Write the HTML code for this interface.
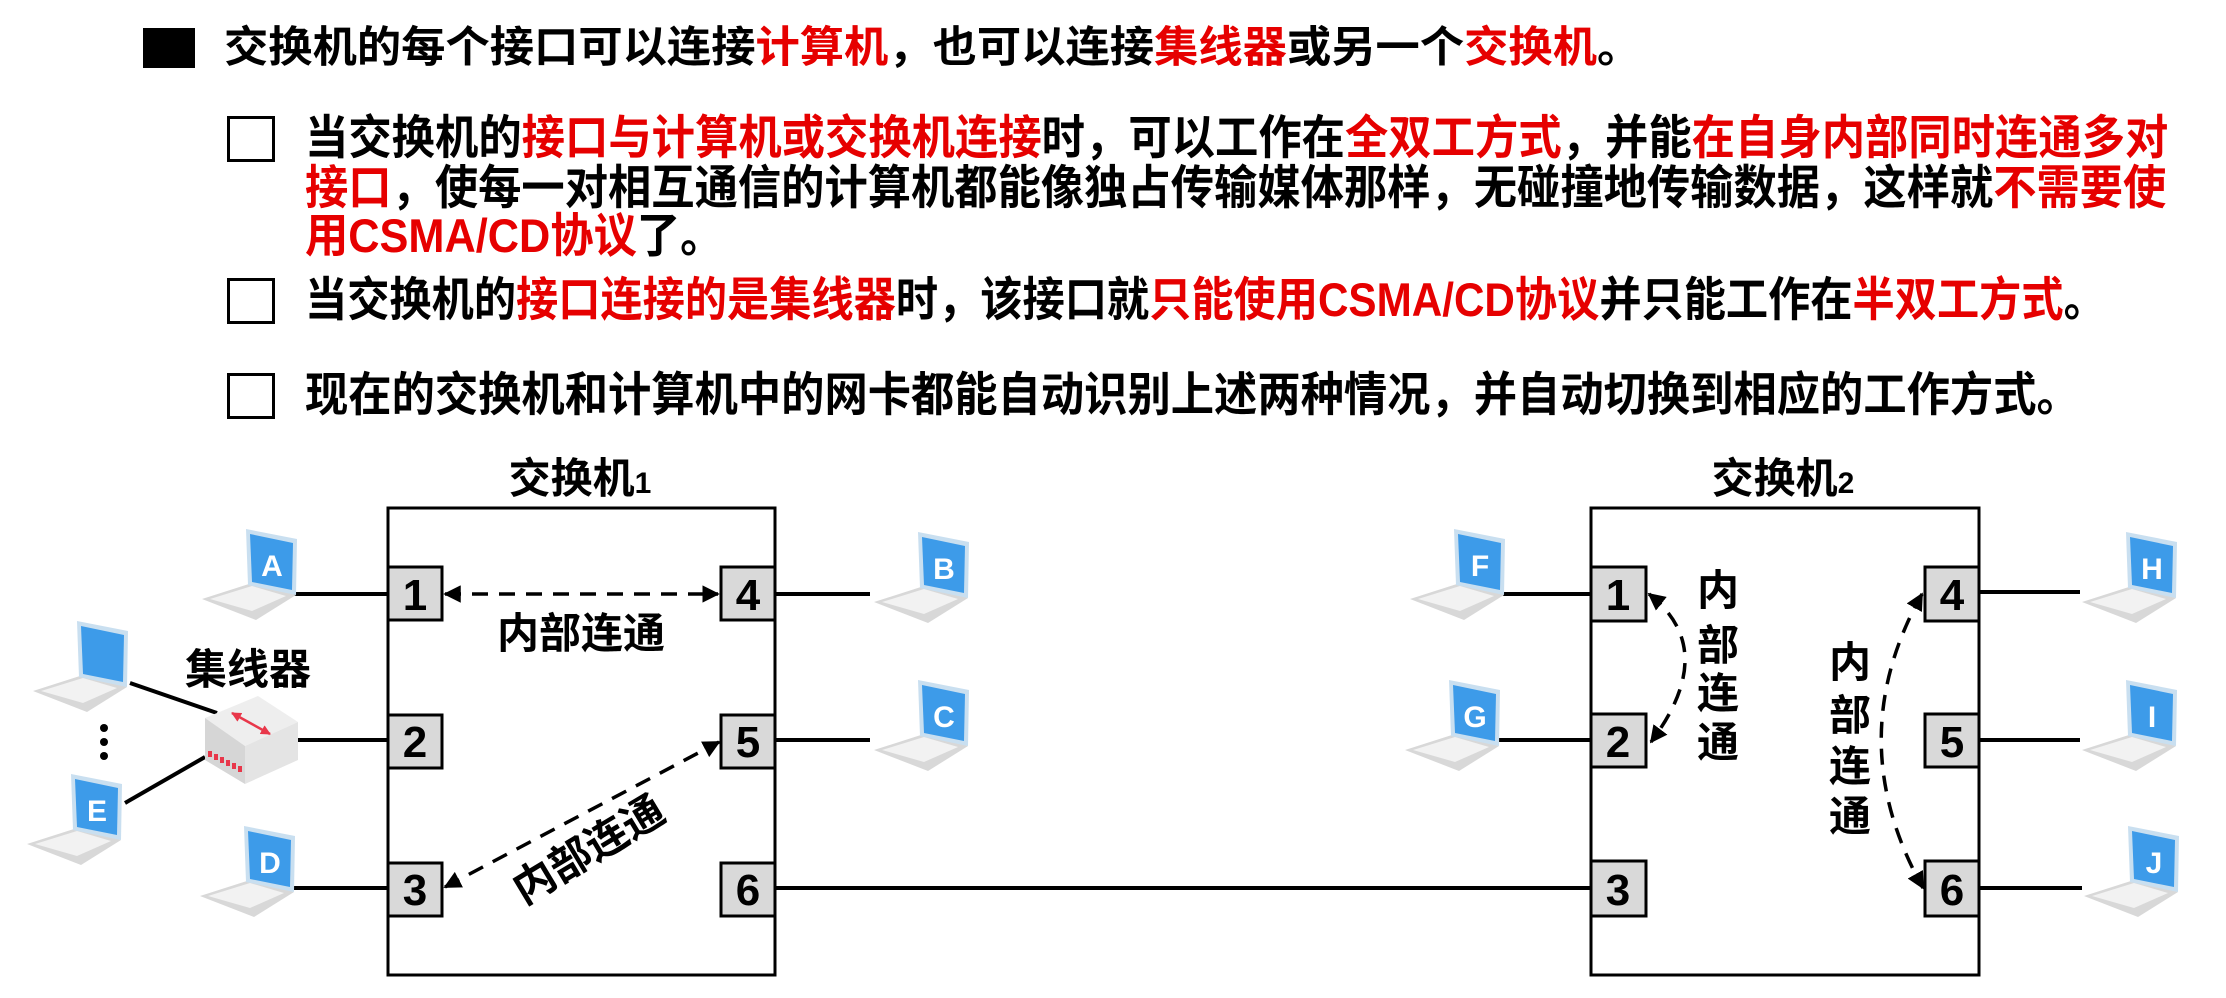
<!DOCTYPE html>
<html><head><meta charset="utf-8"><style>
html,body{margin:0;padding:0;background:#fff;}
body{width:2226px;height:998px;position:relative;overflow:hidden;font-family:"Liberation Sans","Noto Sans CJK SC",sans-serif;font-weight:bold;color:#000;}
.t{position:absolute;white-space:nowrap;font-weight:bold;transform-origin:0 50%;}
.r{color:#e60000;}
.cb{position:absolute;left:227px;width:42px;height:40px;border:3px solid #000;background:#fff;}
</style></head><body>
<div style="position:absolute;left:143px;top:28px;width:52px;height:40px;background:#000"></div>
<div class="t" style="left:224px;top:22px;font-size:43px;line-height:52px;transform:scaleX(1.03);">交换机的每个接口可以连接<span class="r">计算机</span>，也可以连接<span class="r">集线器</span>或另一个<span class="r">交换机</span>。</div>

<div class="cb" style="top:116px"></div>
<div class="t" style="left:305px;top:114px;font-size:47px;line-height:48px;transform:scaleX(0.922);">当交换机的<span class="r">接口与计算机或交换机连接</span>时，可以工作在<span class="r">全双工方式</span>，并能<span class="r">在自身内部同时连通多对</span></div>
<div class="t" style="left:305px;top:164px;font-size:47px;line-height:48px;transform:scaleX(0.921);"><span class="r">接口</span>，使每一对相互通信的计算机都能像独占传输媒体那样，无碰撞地传输数据，这样就<span class="r">不需要使</span></div>
<div class="t" style="left:305px;top:212px;font-size:47px;line-height:48px;transform:scaleX(0.921);"><span class="r">用CSMA/CD协议</span>了。</div>
<div class="cb" style="top:278px"></div>
<div class="t" style="left:305px;top:276px;font-size:47px;line-height:48px;transform:scaleX(0.898);">当交换机的<span class="r">接口连接的是集线器</span>时，该接口就<span class="r">只能使用CSMA/CD协议</span>并只能工作在<span class="r">半双工方式</span>。</div>
<div class="cb" style="top:373px"></div>
<div class="t" style="left:305px;top:371px;font-size:47px;line-height:48px;transform:scaleX(0.921);">现在的交换机和计算机中的网卡都能自动识别上述两种情况，并自动切换到相应的工作方式。</div>

<svg width="2226" height="998" style="position:absolute;left:0;top:0" xmlns="http://www.w3.org/2000/svg">
<defs>
<marker id="ah" viewBox="0 0 10 10" refX="9" refY="5" markerWidth="5" markerHeight="5" orient="auto-start-reverse"><path d="M0,0 L10,5 L0,10 Z" fill="#000"/></marker>
<marker id="ahr" viewBox="0 0 10 10" refX="9" refY="5" markerWidth="4" markerHeight="4" orient="auto-start-reverse"><path d="M0,0 L10,5 L0,10 Z" fill="#e8374a"/></marker>
<g id="lap">
<polygon points="2,74 52,58 96,70 56,95" fill="#d8d8d8"/>
<polygon points="10,74 52,61 86,71 52,86" fill="#f2f2f2"/>
<polygon points="46,4 97,14 96,70 48,60" fill="#c9dff0"/>
<polygon points="50,9 93,18 92,65 52,57" fill="#3d9be9"/>
</g>
</defs>
<g font-family="Liberation Sans, sans-serif" font-weight="bold" fill="#000" stroke="none">
<rect x="388" y="508" width="387" height="467" fill="#fff" stroke="#000" stroke-width="3"/>
<rect x="1591" y="508" width="388" height="467" fill="#fff" stroke="#000" stroke-width="3"/>
<text x="580" y="493" font-size="42" text-anchor="middle" font-family="Liberation Sans, Noto Sans CJK SC, sans-serif">交换机<tspan font-size="30">1</tspan></text>
<text x="1783" y="493" font-size="42" text-anchor="middle" font-family="Liberation Sans, Noto Sans CJK SC, sans-serif">交换机<tspan font-size="30">2</tspan></text>

<g stroke="#000" stroke-width="4">
<line x1="293" y1="594" x2="388" y2="594"/>
<line x1="297" y1="740" x2="388" y2="740"/>
<line x1="293" y1="888" x2="388" y2="888"/>
<line x1="130" y1="683" x2="217" y2="713"/>
<line x1="125" y1="803" x2="205" y2="757"/>
<line x1="775" y1="594" x2="870" y2="594"/>
<line x1="775" y1="740" x2="870" y2="740"/>
<line x1="775" y1="888" x2="1591" y2="888"/>
<line x1="1503" y1="594" x2="1591" y2="594"/>
<line x1="1498" y1="740" x2="1591" y2="740"/>
<line x1="1979" y1="592" x2="2080" y2="592"/>
<line x1="1979" y1="740" x2="2080" y2="740"/>
<line x1="1979" y1="888" x2="2082" y2="888"/>
</g>

<g fill="#d9d9d9" stroke="#000" stroke-width="3">
<rect x="388" y="567" width="54" height="53"/><rect x="388" y="715" width="54" height="53"/><rect x="388" y="863" width="54" height="53"/>
<rect x="721" y="567" width="54" height="53"/><rect x="721" y="715" width="54" height="53"/><rect x="721" y="863" width="54" height="53"/>
<rect x="1591" y="567" width="55" height="54"/><rect x="1591" y="714" width="55" height="53"/><rect x="1591" y="861" width="55" height="55"/>
<rect x="1925" y="567" width="54" height="54"/><rect x="1925" y="714" width="54" height="53"/><rect x="1925" y="861" width="54" height="55"/>
</g>
<g font-size="44" text-anchor="middle">
<text x="415" y="610">1</text><text x="415" y="757">2</text><text x="415" y="905">3</text>
<text x="748" y="610">4</text><text x="748" y="757">5</text><text x="748" y="905">6</text>
<text x="1618" y="610">1</text><text x="1618" y="757">2</text><text x="1618" y="905">3</text>
<text x="1952" y="610">4</text><text x="1952" y="757">5</text><text x="1952" y="905">6</text>
</g>

<g stroke="#000" stroke-width="3.5" stroke-dasharray="16,11" fill="none" marker-start="url(#ah)" marker-end="url(#ah)">
<line x1="445" y1="594" x2="718" y2="594"/>
<line x1="445" y1="887" x2="719" y2="742"/>
<path d="M1649,594 Q1720,650 1651,742"/>
<path d="M1922,594 Q1840,740 1923,888"/>
</g>
<g font-size="42" text-anchor="middle" font-family="Liberation Sans, Noto Sans CJK SC, sans-serif">
<text x="581" y="648">内部连通</text>
<text x="0" y="0" transform="translate(596,862) rotate(-31)">内部连通</text>
<text x="1718" y="605">内</text><text x="1718" y="660">部</text><text x="1718" y="708">连</text><text x="1718" y="757">通</text>
<text x="1850" y="677">内</text><text x="1850" y="730">部</text><text x="1850" y="781">连</text><text x="1850" y="831">通</text>
<text x="248" y="684">集线器</text>
</g>

<polygon points="205,718 258,696 298,722 245,746" fill="#eeeeee"/>
<polygon points="205,718 245,746 245,784 205,760" fill="#d6d6d6"/>
<polygon points="245,746 298,722 298,760 245,784" fill="#e4e4e4"/>
<line x1="232" y1="713" x2="270" y2="734" stroke="#e8374a" stroke-width="2.5" marker-start="url(#ahr)" marker-end="url(#ahr)"/>
<g fill="#e8374a"><rect x="208" y="751" width="4" height="6"/><rect x="214" y="754" width="4" height="6"/><rect x="220" y="757" width="4" height="6"/><rect x="226" y="760" width="4" height="6"/><rect x="232" y="763" width="4" height="6"/><rect x="238" y="766" width="4" height="6"/></g>
<circle cx="104" cy="728" r="4"/><circle cx="104" cy="742" r="4"/><circle cx="104" cy="756" r="4"/>

<g font-size="30" fill="#fff" text-anchor="middle">
<use href="#lap" x="200" y="525"/><text x="272" y="576">A</text>
<use href="#lap" x="31" y="617"/>
<use href="#lap" x="25" y="770"/><text x="97" y="821">E</text>
<use href="#lap" x="198" y="822"/><text x="270" y="873">D</text>
<use href="#lap" x="872" y="528"/><text x="944" y="579">B</text>
<use href="#lap" x="872" y="676"/><text x="944" y="727">C</text>
<use href="#lap" x="1408" y="525"/><text x="1480" y="576">F</text>
<use href="#lap" x="1403" y="676"/><text x="1475" y="727">G</text>
<use href="#lap" x="2080" y="528"/><text x="2152" y="579">H</text>
<use href="#lap" x="2080" y="676"/><text x="2152" y="727">I</text>
<use href="#lap" x="2082" y="822"/><text x="2154" y="873">J</text>
</g>
</g>
</svg>
</body></html>
